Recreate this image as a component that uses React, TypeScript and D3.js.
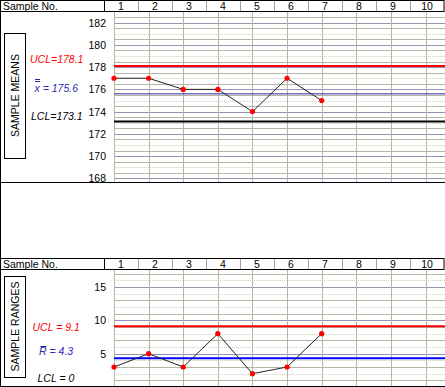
import * as d3 from "d3";

const sampleNos = [1, 2, 3, 4, 5, 6, 7, 8, 9, 10];
const meanValues = [177, 177, 176, 176, 174, 177, 175];
const rangeValues = [3, 5, 3, 8, 2, 3, 8];
const meanTicks = [168, 170, 172, 174, 176, 178, 180, 182];
const rangeTicks = [5, 10, 15];
const meanUCL = 178.1;
const meanCenter = 175.6;
const meanLCL = 173.1;
const rangeUCL = 9.1;
const rangeCenter = 4.3;
const rangeLCL = 0;

const W = 445;
const H = 387;
const FONT = "'Liberation Sans', Arial, sans-serif";

const GRID_GRAY = "#b6b6a6";
const GRID_BLUE = "#9494b2";
const GRID_DOT = "#d0d0b8";

const xPoint = d3.scaleLinear().domain([1, 10]).range([114, 425.5]);
const xHeader = d3
  .scaleBand<number>()
  .domain(sampleNos)
  .range([104, 444]);

function Header({ y }: { y: number }) {
  const h = 11;
  return (
    <g>
      <rect x={0.5} y={y + 0.5} width={443.5} height={h} fill="#fff" stroke="#000" />
      <text x={3} y={y + 9.5} fontSize={10.5} fontFamily={FONT} fill="#000">
        Sample No.
      </text>
      {sampleNos.map((s, i) => (
        <g key={s}>
          {i > 0 && (
            <line
              x1={Math.round(xHeader(s)!) + 0.5}
              x2={Math.round(xHeader(s)!) + 0.5}
              y1={y + 1}
              y2={y + h}
              stroke="#a0a0a0"
            />
          )}
          <text
            x={xHeader(s)! + xHeader.bandwidth() / 2}
            y={y + 9.5}
            textAnchor="middle"
            fontSize={10.5}
            fontFamily={FONT}
            fill="#000"
          >
            {s}
          </text>
        </g>
      ))}
      <line x1={104.5} x2={104.5} y1={y} y2={y + h} stroke="#000" />
    </g>
  );
}

function gridStyle(kind: string) {
  if (kind === "major") return { stroke: GRID_BLUE, dash: undefined };
  if (kind === "minor") return { stroke: GRID_GRAY, dash: undefined };
  return { stroke: GRID_DOT, dash: "1,1" };
}

function Panel({
  top,
  bottom,
  y,
  gridValues,
  gridKind,
  ticks,
  values,
  ucl,
  center,
  lcl,
  centerColor,
  centerWidth,
}: {
  top: number;
  bottom: number;
  y: d3.ScaleLinear<number, number>;
  gridValues: number[];
  gridKind: (v: number) => string;
  ticks: number[];
  values: number[];
  ucl: number;
  center: number;
  lcl: number;
  centerColor: string;
  centerWidth: number;
}) {
  const x0 = xPoint(1);
  const line = d3
    .line<number>()
    .x((_, i) => xPoint(i + 1))
    .y((d) => y(d));
  return (
    <g>
      {gridValues
        .filter((v) => y(v) > top + 1 && y(v) < bottom - 1)
        .map((v) => {
          const st = gridStyle(gridKind(v));
          const yy = Math.round(y(v)) + 0.5;
          return (
            <line
              key={v}
              x1={x0}
              x2={W}
              y1={yy}
              y2={yy}
              stroke={st.stroke}
              strokeDasharray={st.dash}
            />
          );
        })}
      {sampleNos.map((s) => {
        const xx = Math.round(xPoint(s)) + 0.5;
        return (
          <line key={s} x1={xx} x2={xx} y1={top} y2={bottom} stroke={GRID_GRAY} />
        );
      })}
      {ticks.map((t) => (
        <text
          key={t}
          x={106}
          y={y(t) + 4}
          textAnchor="end"
          fontSize={10.5}
          fontFamily={FONT}
          fill="#000"
        >
          {t}
        </text>
      ))}
      <line x1={x0} x2={W} y1={y(ucl)} y2={y(ucl)} stroke="#ff0000" strokeWidth={2} />
      <line
        x1={x0}
        x2={W}
        y1={y(center)}
        y2={y(center)}
        stroke={centerColor}
        strokeWidth={centerWidth}
      />
      {y(lcl) < bottom - 2 && (
        <line x1={x0} x2={W} y1={y(lcl)} y2={y(lcl)} stroke="#000" strokeWidth={2} />
      )}
      <path d={line(values) ?? ""} fill="none" stroke="#222" strokeWidth={1} />
      {values.map((v, i) => (
        <circle key={i} cx={xPoint(i + 1)} cy={y(v)} r={2.6} fill="#ff0000" />
      ))}
    </g>
  );
}

function SideBox({ y1, y2, label }: { y1: number; y2: number; label: string }) {
  const cx = 15;
  const cy = (y1 + y2) / 2;
  return (
    <g>
      <rect x={4.5} y={y1 + 0.5} width={21} height={y2 - y1} fill="none" stroke="#000" />
      <text
        transform={`translate(${cx + 4},${cy}) rotate(-90)`}
        textAnchor="middle"
        fontSize={10.5}
        fontFamily={FONT}
        fill="#000"
      >
        {label}
      </text>
    </g>
  );
}

export default function App() {
  const yMean = d3.scaleLinear().domain([168, 182]).range([178.3, 22.7]);
  const yRange = d3.scaleLinear().domain([0, 15]).range([387, 287]);

  const meanGrid = d3.range(166, 184.5, 0.5);
  const rangeGrid = d3.range(0, 18, 1);

  const labelSize = 10.5;

  return (
    <div style={{ position: "absolute", left: 0, top: 0 }}>
      <svg width={W} height={H} style={{ display: "block", background: "#fff" }}>
        <rect x={0} y={0} width={W} height={H} fill="#fff" />

        {/* sample means */}
        <Panel
          top={11}
          bottom={182}
          y={yMean}
          gridValues={meanGrid}
          gridKind={(v) =>
            v % 2 === 0 ? "major" : v % 1 === 0 ? "dot" : "minor"
          }
          ticks={meanTicks}
          values={meanValues}
          ucl={meanUCL}
          center={meanCenter}
          lcl={meanLCL}
          centerColor="#2a2a9a"
          centerWidth={1}
        />
        <Header y={0} />
        <line x1={0} x2={W} y1={182.5} y2={182.5} stroke="#000" />
        <SideBox y1={33} y2={158} label="SAMPLE MEANS" />
        <text x={30} y={63} fontSize={labelSize} fontStyle="italic" fontFamily={FONT} fill="#ff0000">
          UCL=178.1
        </text>
        <line x1={35} x2={40} y1={79.5} y2={79.5} stroke="#2a2ab0" />
        <line x1={35} x2={40} y1={81.5} y2={81.5} stroke="#2a2ab0" />
        <text x={34.5} y={92} fontSize={labelSize} fontStyle="italic" fontFamily={FONT} fill="#2a2ab0">
          x = 175.6
        </text>
        <text x={31} y={120} fontSize={labelSize} fontStyle="italic" fontFamily={FONT} fill="#000">
          LCL=173.1
        </text>

        {/* sample ranges */}
        <Panel
          top={270}
          bottom={386}
          y={yRange}
          gridValues={rangeGrid}
          gridKind={(v) => (v % 5 === 0 ? "major" : v % 2 === 0 ? "dot" : "minor")}
          ticks={rangeTicks}
          values={rangeValues}
          ucl={rangeUCL}
          center={rangeCenter}
          lcl={rangeLCL}
          centerColor="#0000ff"
          centerWidth={2}
        />
        <Header y={258} />
        <line x1={0} x2={W} y1={386.5} y2={386.5} stroke="#000" />
        <SideBox y1={276} y2={377} label="SAMPLE RANGES" />
        <text x={32.5} y={331} fontSize={labelSize} fontStyle="italic" fontFamily={FONT} fill="#ff0000">
          UCL = 9.1
        </text>
        <line x1={40.5} x2={46.5} y1={346.5} y2={346.5} stroke="#2a2ab0" />
        <text x={39} y={354.5} fontSize={labelSize} fontStyle="italic" fontFamily={FONT} fill="#2a2ab0">
          R = 4.3
        </text>
        <text x={37.5} y={382} fontSize={labelSize} fontStyle="italic" fontFamily={FONT} fill="#000">
          LCL = 0
        </text>

        <line x1={0.5} x2={0.5} y1={0} y2={H} stroke="#000" />
      </svg>
    </div>
  );
}
